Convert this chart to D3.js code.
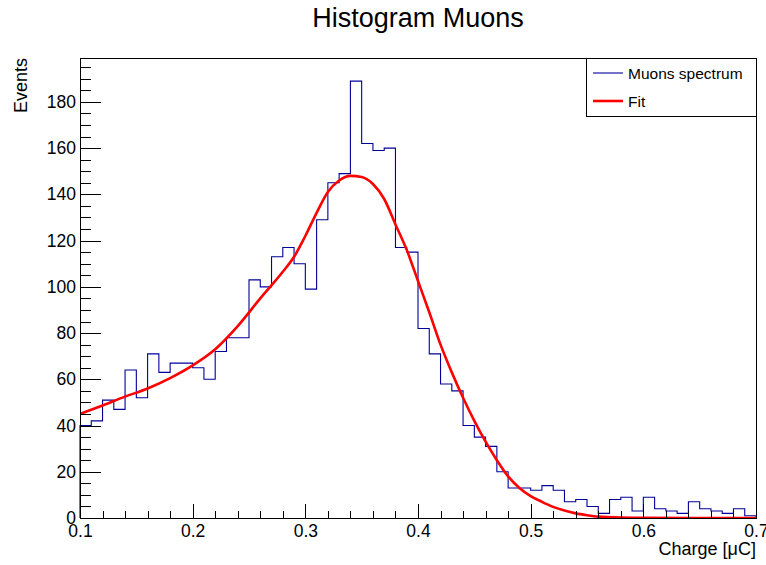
<!DOCTYPE html>
<html>
<head>
<meta charset="utf-8">
<script src="https://cdn.jsdelivr.net/npm/d3@7/dist/d3.min.js"></script>
<style>
  html, body { margin: 0; padding: 0; background: #fff; }
  svg { display: block; }
  text { font-family: "Liberation Sans", Arial, Helvetica, sans-serif; fill: #000; }
</style>
</head>
<body>
<svg id="chart" width="766" height="565"></svg>
<script>
// ---- Data ----
const chartTitle = "Histogram Muons";
const xTitle = "Charge [\u03BCC]";
const yTitle = "Events";
const seriesNames = ["Muons spectrum", "Fit"];

// lower edges of the 60 bins (width 0.01)
const binLow = [0.10,0.11,0.12,0.13,0.14,0.15,0.16,0.17,0.18,0.19,
                0.20,0.21,0.22,0.23,0.24,0.25,0.26,0.27,0.28,0.29,
                0.30,0.31,0.32,0.33,0.34,0.35,0.36,0.37,0.38,0.39,
                0.40,0.41,0.42,0.43,0.44,0.45,0.46,0.47,0.48,0.49,
                0.50,0.51,0.52,0.53,0.54,0.55,0.56,0.57,0.58,0.59,
                0.60,0.61,0.62,0.63,0.64,0.65,0.66,0.67,0.68,0.69];
const binWidth = 0.01;
const counts = [40,42,51,47,64,52,71,63,67,67,
                65,60,72,78,78,103,100,113,117,110,
                99,129,145,149,189,162,159,160,117,115,
                82,71,58,55,40,35,31,20,13,13,
                12,14,12,7,8,5,2,8,9,3,
                9,4,3,2,7,4,3,2,4,1];

const fitX = [0.10,0.12,0.14,0.16,0.18,0.20,0.22,0.24,0.26,0.28,0.29,0.30,0.31,0.32,0.33,0.34,0.35,0.36,0.37,0.38,0.39,0.40,0.41,0.42,0.43,0.44,0.45,0.46,0.47,0.48,0.49,0.50,0.51,0.52,0.53,0.54,0.55,0.56,0.58,0.60,0.65,0.70];
const fitY = [45,48.7,52.5,56,60.5,66,73,83,95,106.5,113,122,132,141,146,148,147.5,144.5,138,127,116,102.5,89,75,63,52,42,33,25,18,13,9.5,7,4.8,3.2,2,1.2,0.6,0.2,0.1,0,0];

const xDomain = [0.1, 0.7];
const yDomain = [0, 199];
const xMajorTicks = [0.1,0.2,0.3,0.4,0.5,0.6,0.7];
const xTickLabels = ["0.1","0.2","0.3","0.4","0.5","0.6","0.7"];
const xMinorTicks = [0.12,0.14,0.16,0.18,0.22,0.24,0.26,0.28,0.32,0.34,0.36,0.38,0.42,0.44,0.46,0.48,0.52,0.54,0.56,0.58,0.62,0.64,0.66,0.68];
const yMajorTicks = [0,20,40,60,80,100,120,140,160,180];
const yTickLabels = ["0","20","40","60","80","100","120","140","160","180"];
const yMinorTicks = [5,10,15,25,30,35,45,50,55,65,70,75,85,90,95,105,110,115,125,130,135,145,150,155,165,170,175,185,190,195];

// ---- Layout ----
const L = 80, R = 756, T = 58, B = 518;
const histColor = "#000099";
const fitColor = "#ff0000";

const svg = d3.select("#chart");
const x = d3.scaleLinear().domain(xDomain).range([L, R]);
const y = d3.scaleLinear().domain(yDomain).range([B, T]);

// clip
svg.append("defs").append("clipPath").attr("id", "plotclip")
  .append("rect").attr("x", L).attr("y", T - 2).attr("width", R - L).attr("height", B - T + 2);

// histogram step path
const pts = [[binLow[0], 0]];
binLow.forEach((b, i) => {
  pts.push([b, counts[i]]);
  pts.push([b + binWidth, counts[i]]);
});
pts.push([binLow[binLow.length - 1] + binWidth, 0]);
const histLine = d3.line().x(d => x(d[0])).y(d => y(d[1]));
svg.append("path")
  .attr("d", histLine(pts))
  .attr("fill", "none")
  .attr("stroke", histColor)
  .attr("stroke-width", 1.1);

// fit curve
const fitLine = d3.line().x((d, i) => x(fitX[i])).y(d => y(d)).curve(d3.curveMonotoneX);
svg.append("path")
  .attr("clip-path", "url(#plotclip)")
  .attr("d", fitLine(fitY))
  .attr("fill", "none")
  .attr("stroke", fitColor)
  .attr("stroke-width", 2.6)
  .attr("stroke-linejoin", "round");

// frame
svg.append("rect")
  .attr("x", L).attr("y", T).attr("width", R - L).attr("height", B - T)
  .attr("fill", "none").attr("stroke", "#000").attr("stroke-width", 1)
  .attr("shape-rendering", "crispEdges");

// axes
const xAxisMajor = d3.axisBottom(x).tickValues(xMajorTicks).tickSizeInner(-14).tickSizeOuter(0)
  .tickFormat((d, i) => xTickLabels[i]).tickPadding(20);
const gx = svg.append("g").attr("transform", `translate(0,${B})`).call(xAxisMajor);
const xAxisMinor = d3.axisBottom(x).tickValues(xMinorTicks).tickSizeInner(-7).tickSizeOuter(0).tickFormat("");
const gx2 = svg.append("g").attr("transform", `translate(0,${B})`).call(xAxisMinor);

const yAxisMajor = d3.axisLeft(y).tickValues(yMajorTicks).tickSizeInner(-21).tickSizeOuter(0)
  .tickFormat((d, i) => yTickLabels[i]).tickPadding(25);
const gy = svg.append("g").attr("transform", `translate(${L},0)`).call(yAxisMajor);
const yAxisMinor = d3.axisLeft(y).tickValues(yMinorTicks).tickSizeInner(-11).tickSizeOuter(0).tickFormat("");
const gy2 = svg.append("g").attr("transform", `translate(${L},0)`).call(yAxisMinor);

[gx, gx2, gy, gy2].forEach(g => {
  g.selectAll(".domain").attr("stroke", "#000").attr("shape-rendering", "crispEdges");
  g.selectAll(".tick line").attr("stroke", "#000").attr("shape-rendering", "crispEdges");
  g.selectAll(".tick text")
    .attr("font-family", "'Liberation Sans', Arial, sans-serif")
    .attr("font-size", 17.5).attr("fill", "#000");
});
gx.selectAll(".tick text").attr("y", 7).attr("dy", "0.71em");
gy.selectAll(".tick text").attr("x", -4);

// titles
svg.append("text").attr("x", 418).attr("y", 27)
  .attr("text-anchor", "middle").attr("font-size", 27).text(chartTitle);
svg.append("text").attr("x", R).attr("y", 555)
  .attr("text-anchor", "end").attr("font-size", 18).text(xTitle);
svg.append("text").attr("transform", `translate(27,${T}) rotate(-90)`)
  .attr("text-anchor", "end").attr("font-size", 18).text(yTitle);

// legend
const lg = svg.append("g");
lg.append("rect").attr("x", 586).attr("y", T).attr("width", R - 586).attr("height", 58)
  .attr("fill", "#fff").attr("stroke", "#000").attr("stroke-width", 1).attr("shape-rendering", "crispEdges");
const legendItems = [
  {name: seriesNames[0], color: histColor, w: 1.1, yy: 73},
  {name: seriesNames[1], color: fitColor, w: 2.6, yy: 101}
];
legendItems.forEach(it => {
  lg.append("line").attr("x1", 593).attr("x2", 623).attr("y1", it.yy).attr("y2", it.yy)
    .attr("stroke", it.color).attr("stroke-width", it.w);
  lg.append("text").attr("x", 628).attr("y", it.yy + 5.5).attr("font-size", 15.5).text(it.name);
});
</script>
</body>
</html>
